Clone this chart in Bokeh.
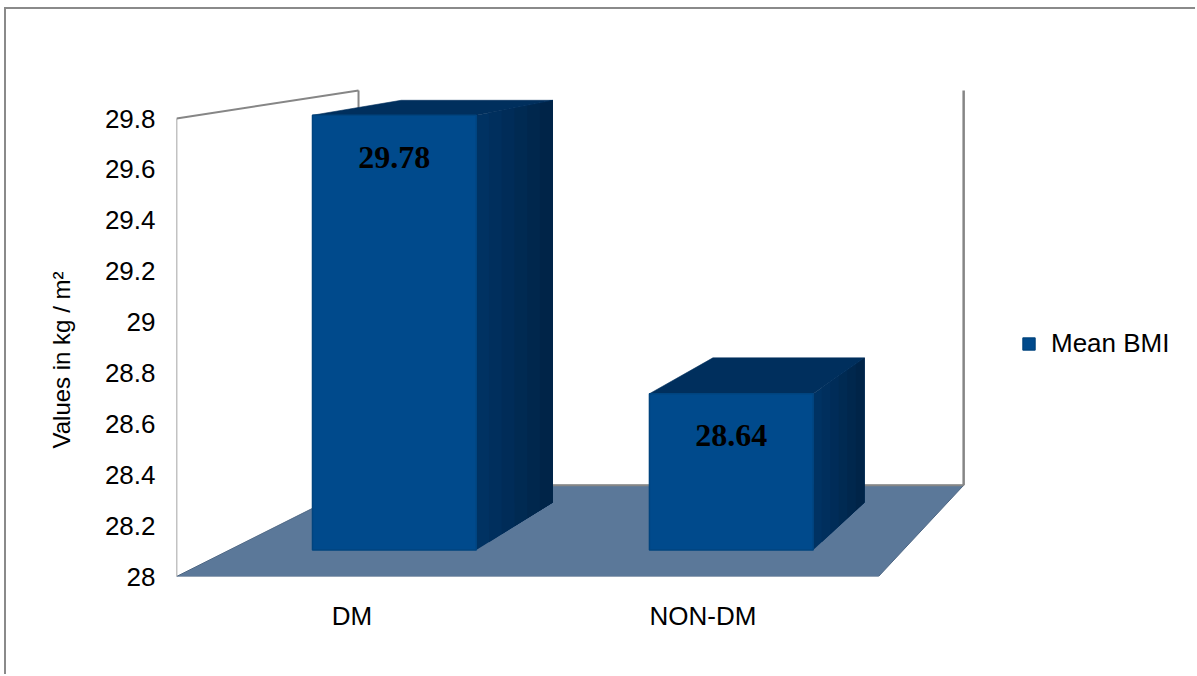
from bokeh.plotting import figure
from bokeh.models import (Range1d, FixedTicker, Legend, LegendItem, Title,
                          ColumnDataSource)
from bokeh.core.properties import value
from bokeh.embed import file_html
from bokeh.resources import INLINE

# ---- data -------------------------------------------------------------
CATEGORIES = ["DM", "NON-DM"]
MEAN_BMI = [29.78, 28.64]
SERIES_NAME = "Mean BMI"
Y_TICKS = [28.0, 28.2, 28.4, 28.6, 28.8, 29.0, 29.2, 29.4, 29.6, 29.8]
Y_TICK_LABELS = ["28", "28.2", "28.4", "28.6", "28.8", "29", "29.2", "29.4", "29.6", "29.8"]
Y_TITLE = "Values in kg / m\u00b2"

Y_MIN, Y_MAX = Y_TICKS[0], Y_TICKS[-1]
N = len(CATEGORIES)

# ---- layout (pixels) --------------------------------------------------
W, H = 1191, 667
BORDER_LEFT, BORDER_BOTTOM = 170, 100
FRAME_W = W - BORDER_LEFT
FRAME_H = H - BORDER_BOTTOM
PX_PER_CAT = 351.0                      # width of one category on the front plane
PX_PER_Y = 458.0 / (Y_MAX - Y_MIN)      # height of the value axis on the front plane

# ---- 3-D look: one-point perspective towards a vanishing point ---------
VX = 3.758                              # vanishing point, category units
VY = Y_MIN + 661.0 / PX_PER_Y           # vanishing point, value units
S_BAR_FRONT = 0.960                     # scale of the bars' front faces
S_BAR_BACK = 0.888                      # scale of the bars' back faces
S_WALL = 0.862                          # scale of the back wall
BAR_CENTER = 0.49
BAR_HALF = 0.243

FLOOR = "#5b7899"
WALL_LINE = "#868686"
FRONT = "#004a8c"
FRONT_EDGE = "#00447f"
TOP = "#002f5d"
SIDE_LIGHT = (0, 50, 98)
SIDE_DARK = (0, 36, 72)
FONT = "Liberation Sans"


def proj(x, y, s):
    return VX + s * (x - VX), VY + s * (y - VY)


def pts_xy(pts):
    return [q[0] for q in pts], [q[1] for q in pts]


p = figure(width=W, height=H,
           x_range=Range1d(0, FRAME_W / PX_PER_CAT),
           y_range=Range1d(Y_MIN, Y_MIN + FRAME_H / PX_PER_Y),
           output_backend="svg", toolbar_location=None,
           min_border_left=BORDER_LEFT, min_border_right=0,
           min_border_top=0, min_border_bottom=BORDER_BOTTOM)
p.styles = {"margin-left": "4px", "margin-top": "7px",
            "border-left": "2px solid #8a8a8a", "border-top": "2px solid #8a8a8a"}
p.outline_line_color = None
p.grid.visible = False
p.background_fill_color = "white"
p.border_fill_color = "white"

# ---- floor and walls --------------------------------------------------
fx, fy = pts_xy([proj(0, Y_MIN, 1), proj(N, Y_MIN, 1),
                 proj(N, Y_MIN, S_WALL), proj(0, Y_MIN, S_WALL)])
p.patch(fx, fy, fill_color=FLOOR, line_color="#4d6683", line_width=1)

# back edge of the floor
bx, by = pts_xy([proj(0, Y_MIN, S_WALL), proj(N, Y_MIN, S_WALL)])
p.line(bx, by, line_color=WALL_LINE, line_width=2)

# side wall: front edge, top edge, back edge; right edge of the back wall
wall_segments = [
    (proj(0, Y_MIN, 1), proj(0, Y_MAX, 1), 1.5),
    (proj(0, Y_MAX, 1), proj(0, Y_MAX, S_WALL), 2),
    (proj(0, Y_MAX, S_WALL), proj(0, Y_MIN, S_WALL), 2),
    (proj(N, Y_MIN, S_WALL), proj(N, Y_MAX, S_WALL), 2.5),
]
for a, b, w in wall_segments:
    p.line([a[0], b[0]], [a[1], b[1]], line_color=WALL_LINE, line_width=w)

# ---- bars -------------------------------------------------------------
STEPS = 6
for i, v in enumerate(MEAN_BMI):
    x0 = i + BAR_CENTER - BAR_HALF
    x1 = i + BAR_CENTER + BAR_HALF
    # right side face: overlapping layers, darker towards the back
    for k in range(STEPS):
        sa = S_BAR_FRONT + (S_BAR_BACK - S_BAR_FRONT) * k / STEPS
        t = k / (STEPS - 1)
        c = tuple(int(round(SIDE_LIGHT[j] + (SIDE_DARK[j] - SIDE_LIGHT[j]) * t)) for j in range(3))
        col = "#%02x%02x%02x" % c
        sx, sy = pts_xy([proj(x1, Y_MIN, sa), proj(x1, Y_MIN, S_BAR_BACK),
                         proj(x1, v, S_BAR_BACK), proj(x1, v, sa)])
        p.patch(sx, sy, fill_color=col, line_color=None)
    # top face
    tx, ty = pts_xy([proj(x0, v, S_BAR_FRONT), proj(x1, v, S_BAR_FRONT),
                     proj(x1, v, S_BAR_BACK), proj(x0, v, S_BAR_BACK)])
    p.patch(tx, ty, fill_color=TOP, line_color=TOP, line_width=0.6)

# front faces (one renderer for the legend)
lefts, rights, bottoms, tops = [], [], [], []
for i, v in enumerate(MEAN_BMI):
    l, b = proj(i + BAR_CENTER - BAR_HALF, Y_MIN, S_BAR_FRONT)
    r, t = proj(i + BAR_CENTER + BAR_HALF, v, S_BAR_FRONT)
    lefts.append(l); rights.append(r); bottoms.append(b); tops.append(t)
front_src = ColumnDataSource(dict(left=lefts, right=rights, bottom=bottoms, top=tops))
front = p.quad(left="left", right="right", bottom="bottom", top="top",
               source=front_src, fill_color=FRONT, line_color=FRONT_EDGE,
               line_width=1.5)

# value labels on the front faces
lab_src = ColumnDataSource(dict(
    x=[(l + r) / 2 for l, r in zip(lefts, rights)],
    y=tops,
    text=["%.2f" % v for v in MEAN_BMI]))
p.text(x="x", y="y", text="text", source=lab_src,
       text_font=value("Liberation Serif"), text_font_style="bold",
       text_font_size="32px", text_color="black",
       text_align="center", text_baseline="middle", y_offset=42)

# ---- axes -------------------------------------------------------------
p.yaxis.ticker = FixedTicker(ticks=Y_TICKS)
p.yaxis.major_label_overrides = dict(zip(Y_TICKS, Y_TICK_LABELS))
p.xaxis.ticker = FixedTicker(ticks=[i + 0.5 for i in range(N)])
p.xaxis.major_label_overrides = {i + 0.5: c for i, c in enumerate(CATEGORIES)}
for ax in (p.xaxis, p.yaxis):
    ax.axis_line_color = None
    ax.major_tick_line_color = None
    ax.minor_tick_line_color = None
    ax.major_label_text_font = FONT
    ax.major_label_text_font_size = "26px"
    ax.major_label_text_color = "black"
p.yaxis.major_label_standoff = 15
p.xaxis.major_label_standoff = 18

p.add_layout(Title(text=Y_TITLE, align="left", offset=128,
                   vertical_align="middle", standoff=52,
                   text_font=FONT, text_font_size="24px",
                   text_font_style="normal", text_color="black"), "left")

# ---- legend -----------------------------------------------------------
legend = Legend(items=[LegendItem(label=SERIES_NAME, renderers=[front])],
                location=(845, 217), padding=0, margin=0, border_line_color=None,
                background_fill_alpha=0, glyph_width=15, glyph_height=15,
                label_standoff=15, label_text_font=FONT,
                label_text_font_size="26px", label_text_color="black")
p.add_layout(legend, "center")

open("out.html", "w").write(file_html(p, INLINE))
